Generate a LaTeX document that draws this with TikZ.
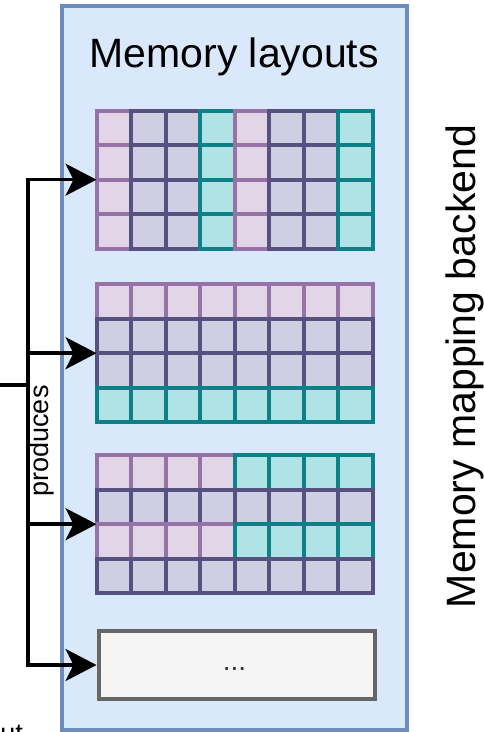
\documentclass[tikz,border=0pt]{standalone}
\usepackage{fontspec}
\setmainfont{Liberation Sans}
\usetikzlibrary{arrows.meta,positioning,calc}
\definecolor{backfill}{HTML}{DAE8FC}
\definecolor{backline}{HTML}{6C8EBF}
\definecolor{pinkfill}{HTML}{E1D5E7}
\definecolor{pinkline}{HTML}{9673A6}
\definecolor{darkfill}{HTML}{D0CEE2}
\definecolor{darkline}{HTML}{56517E}
\definecolor{tealfill}{HTML}{B0E3E6}
\definecolor{tealline}{HTML}{0E8088}
\definecolor{greyfill}{HTML}{F5F5F5}
\definecolor{greyline}{HTML}{666666}

\begin{document}
\begin{tikzpicture}[x=1pt,y=-1pt,
pk/.style={fill=pinkfill,draw=pinkline,line width=4pt},
dk/.style={fill=darkfill,draw=darkline,line width=4pt},
tl/.style={fill=tealfill,draw=tealline,line width=4pt},
grid/.style={minimum width=276pt,minimum height=138pt,inner sep=0pt,anchor=north west},
link/.style={line width=3.5pt,-{Stealth[length=31pt,width=32pt,inset=8pt]}}]
\useasboundingbox (0,0) rectangle (483,732);
% Backend
\draw[fill=backfill,draw=backline,line width=4pt] (62,6) rectangle (406.5,729.5);
\node[anchor=base,inner sep=0pt] (title) at (234.25,67) {\fontsize{41}{49}\selectfont Memory layouts};
\node[rotate=90,anchor=base,inner sep=0pt] (backend) at (475,366.5) {\fontsize{41}{49}\selectfont Memory mapping backend};
% Column layout
\node[grid] (colmajor) at (96.5,110.5) {};
\foreach \c/\s in {0/pk,1/dk,2/dk,3/tl,4/pk,5/dk,6/dk,7/tl}
  \foreach \r in {0,...,3}
    \draw[\s] ({96.5+\c*34.5},{110.5+\r*34.5}) rectangle ++(34.5,34.5);
% Row layout
\node[grid] (rowmajor) at (96.5,284) {};
\foreach \r/\s in {0/pk,1/dk,2/dk,3/tl}
  \foreach \c in {0,...,7}
    \draw[\s] ({96.5+\c*34.5},{284+\r*34.5}) rectangle ++(34.5,34.5);
% Tiled layout
\node[grid] (tiled) at (96.5,455) {};
\foreach \r/\a/\b in {0/pk/tl,1/dk/dk,2/pk/tl,3/dk/dk}{
  \foreach \c in {0,...,3}
    \draw[\a] ({96.5+\c*34.5},{455+\r*34.5}) rectangle ++(34.5,34.5);
  \foreach \c in {4,...,7}
    \draw[\b] ({96.5+\c*34.5},{455+\r*34.5}) rectangle ++(34.5,34.5);
}
% Other layouts
\node[grid,minimum height=68pt,fill=greyfill,draw=greyline,line width=4pt] (others) at (96.5,629) {};
\node[anchor=base,text=black!80] (dots) at (234.5,670) {\fontsize{28}{32}\selectfont ...};
% Connectors
\coordinate (src) at (-20,385);
\coordinate (split) at (28,385);
\draw[line width=3.5pt] (src) -- (split);
\foreach \g in {colmajor,rowmajor,tiled,others}
  \draw[link] (split) |- (\g.west);
\node[rotate=90,anchor=base,inner sep=0pt] (produces) at (48,441) {\fontsize{27}{32}\selectfont produces};
\node[anchor=base east,inner sep=0pt] (input) at (23,742) {\fontsize{27}{32}\selectfont ut};
\end{tikzpicture}
\end{document}
